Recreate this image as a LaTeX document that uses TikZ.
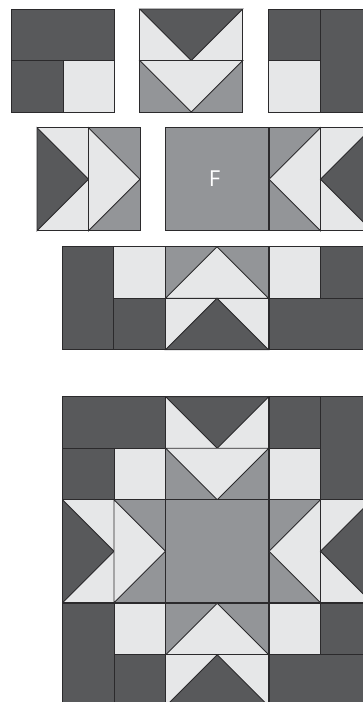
\documentclass[tikz,border=0pt]{standalone}
\usepackage{fontspec}
\setmainfont{Open Sans}
\definecolor{qdark}{HTML}{58595B}
\definecolor{qmid}{HTML}{939598}
\definecolor{qlight}{HTML}{E6E7E8}
\definecolor{qline}{HTML}{2B2A2C}
\tikzset{
  patch/.style={draw=qline,line width=0.9pt,line join=miter},
  dk/.style={patch,fill=qdark},
  md/.style={patch,fill=qmid},
  lt/.style={patch,fill=qlight},
  % all blocks are 103 wide and 103 tall, units are reference pixels
  blocka/.pic={
    \path[dk] (0,0) rectangle (103,51.5);
    \path[dk] (0,51.5) rectangle (51.5,103);
    \path[lt] (51.5,51.5) rectangle (103,103);
  },
  blockb/.pic={
    \path[lt] (0,0) rectangle (103,51.5);
    \path[dk] (0,0) -- (103,0) -- (51.5,51.5) -- cycle;
    \path[md] (0,51.5) rectangle (103,103);
    \path[lt] (0,51.5) -- (103,51.5) -- (51.5,103) -- cycle;
  },
  blockc/.pic={
    \path[dk] (0,0) rectangle (51.5,51.5);
    \path[lt] (0,51.5) rectangle (51.5,103);
    \path[dk] (51.5,0) rectangle (103,103);
  },
  blockd/.pic={
    \path[lt] (0,0) rectangle (51.5,103);
    \path[dk] (0,0) -- (51.5,51.5) -- (0,103) -- cycle;
    \path[md] (51.5,0) rectangle (103,103);
    \path[lt] (51.5,0) -- (103,51.5) -- (51.5,103) -- cycle;
  },
  blocke/.pic={
    \path[md] (0,0) rectangle (103,103);
  },
  blockf/.pic={
    \path[md] (0,0) rectangle (51.5,103);
    \path[lt] (51.5,0) -- (0,51.5) -- (51.5,103) -- cycle;
    \path[lt] (51.5,0) rectangle (103,103);
    \path[dk] (103,0) -- (51.5,51.5) -- (103,103) -- cycle;
  },
  blockg/.pic={
    \path[dk] (0,0) rectangle (51.5,103);
    \path[lt] (51.5,0) rectangle (103,51.5);
    \path[dk] (51.5,51.5) rectangle (103,103);
  },
  blockh/.pic={
    \path[md] (0,0) rectangle (103,51.5);
    \path[lt] (0,51.5) -- (51.5,0) -- (103,51.5) -- cycle;
    \path[lt] (0,51.5) rectangle (103,103);
    \path[dk] (0,103) -- (51.5,51.5) -- (103,103) -- cycle;
  },
  blocki/.pic={
    \path[lt] (0,0) rectangle (51.5,51.5);
    \path[dk] (51.5,0) rectangle (103,51.5);
    \path[dk] (0,51.5) rectangle (103,103);
  },
}
\begin{document}
\begin{tikzpicture}[x=1pt,y=-1pt]
\useasboundingbox (0,0) rectangle (363,702);
\clip (0,0) rectangle (363,702);
% top row of separate blocks
\pic at (11.5,9) {blocka};
\pic at (139.7,9) {blockb};
\pic at (268.5,9) {blockc};
% middle row of separate blocks
\pic at (37,127.7) {blockd};
\pic at (165.5,127.7) {blocke};
\pic at (269,127.7) {blockf};
\node[text=white,font=\fontsize{22}{22}\selectfont,inner sep=0pt] (f) at (214.5,179) {F};
% lower row of separate blocks
\pic at (62.3,246.7) {blockg};
\pic at (165.5,246.7) {blockh};
\pic at (269,246.7) {blocki};
% assembled quilt
\pic at (62.5,396.7) {blocka};
\pic at (165.7,396.7) {blockb};
\pic at (269,396.7) {blockc};
\pic at (62.5,499.8) {blockd};
\pic at (165.7,499.8) {blocke};
\pic at (269,499.8) {blockf};
\pic at (62.5,603.2) {blockg};
\pic at (165.7,603.2) {blockh};
\pic at (269,603.2) {blocki};
\end{tikzpicture}
\end{document}
